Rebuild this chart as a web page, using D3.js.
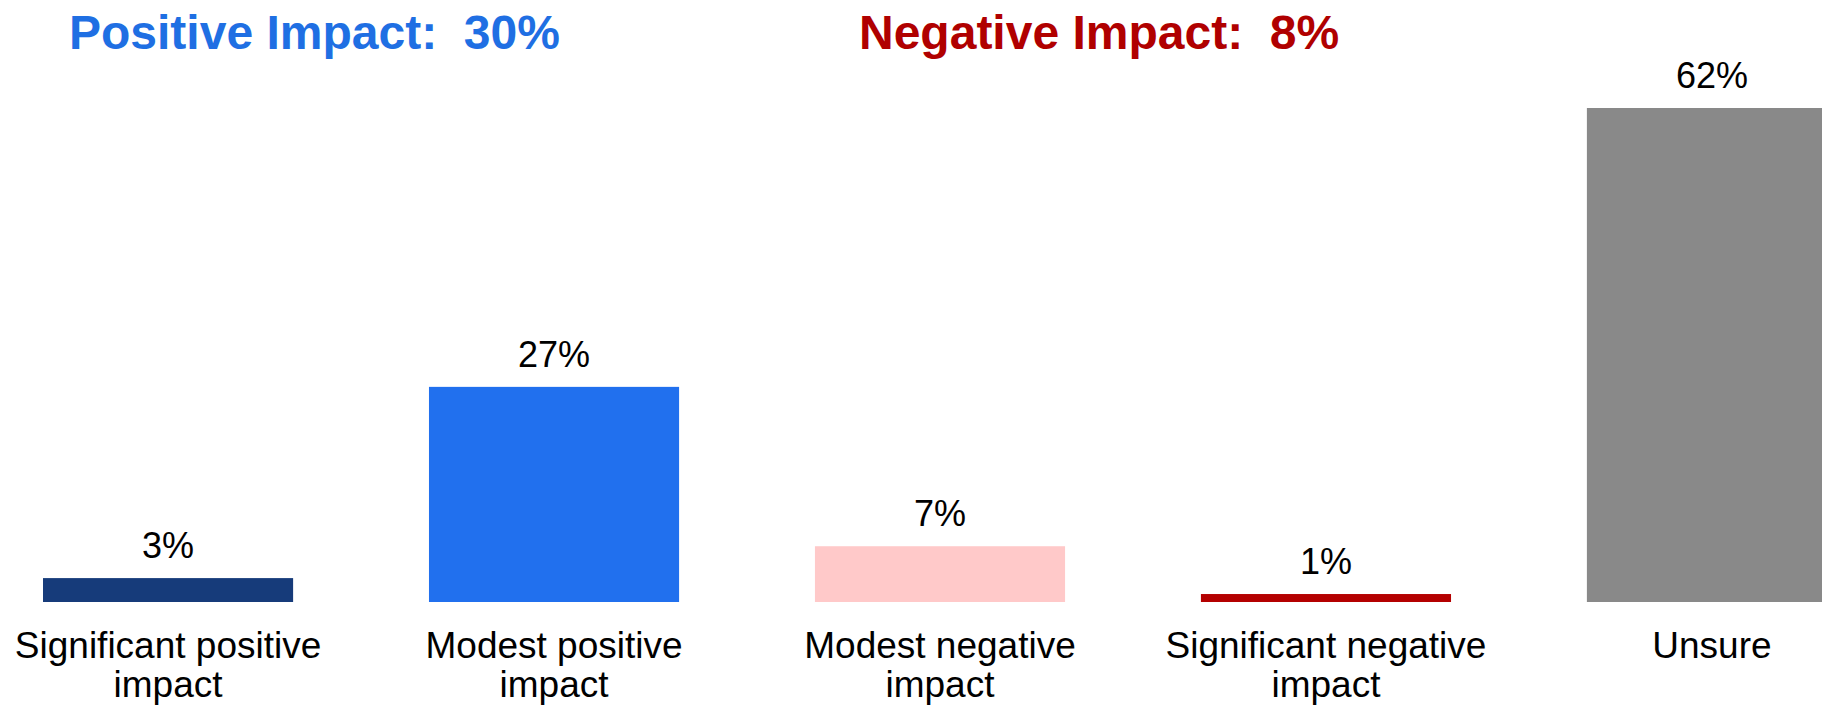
<!DOCTYPE html>
<html>
<head>
<meta charset="utf-8">
<script src="https://cdn.jsdelivr.net/npm/d3@7"></script>
<style>
  html, body { margin: 0; padding: 0; background: #ffffff; overflow: hidden; }
  svg { display: block; font-family: "Liberation Sans", Arial, sans-serif; }
</style>
</head>
<body>
<svg id="chart" width="1822" height="707"></svg>
<script>
// ---- data ----
const categories = ["Significant positive impact", "Modest positive impact", "Modest negative impact", "Significant negative impact", "Unsure"];
const categoryLines = [["Significant positive", "impact"], ["Modest positive", "impact"], ["Modest negative", "impact"], ["Significant negative", "impact"], ["Unsure"]];
const values = [3, 27, 7, 1, 62];
const valueLabels = ["3%", "27%", "7%", "1%", "62%"];
const barColors = ["#163b7a", "#2170ee", "#ffc9c9", "#b40000", "#898989"];
const groupTitles = ["Positive Impact:  30%", "Negative Impact:  8%"];
const groupColors = ["#1f6fe3", "#b00000"];

// ---- layout ----
const svg = d3.select("#chart");
const baseline = 602;

const x = d3.scaleBand()
  .domain(categories)
  .range([43, 1837])
  .paddingInner(0.352)
  .paddingOuter(0);

const y = d3.scaleLinear()
  .domain([0, 62])
  .range([baseline, 108]);

// bars
svg.append("g").selectAll("rect")
  .data(categories)
  .join("rect")
  .attr("x", d => x(d))
  .attr("y", (d, i) => y(values[i]))
  .attr("width", x.bandwidth())
  .attr("height", (d, i) => baseline - y(values[i]))
  .attr("fill", (d, i) => barColors[i]);

// value labels
svg.append("g").selectAll("text")
  .data(categories)
  .join("text")
  .attr("x", d => x(d) + x.bandwidth() / 2)
  .attr("y", (d, i) => y(values[i]) - 20)
  .attr("text-anchor", "middle")
  .attr("font-size", 36)
  .attr("fill", "#000")
  .text((d, i) => valueLabels[i]);

// category labels
const catG = svg.append("g").selectAll("text")
  .data(categories)
  .join("text")
  .attr("x", d => x(d) + x.bandwidth() / 2)
  .attr("y", 658)
  .attr("text-anchor", "middle")
  .attr("font-size", 37)
  .attr("fill", "#000");
catG.each(function(d, i) {
  const t = d3.select(this);
  categoryLines[i].forEach((line, j) => {
    t.append("tspan")
      .attr("x", x(d) + x.bandwidth() / 2)
      .attr("dy", j === 0 ? 0 : 39)
      .text(line);
  });
});

// group titles
const titleX = [69, 859];
svg.append("g").selectAll("text")
  .data(groupTitles)
  .join("text")
  .attr("x", (d, i) => titleX[i])
  .attr("y", 49)
  .attr("font-size", 48)
  .attr("font-weight", "bold")
  .attr("fill", (d, i) => groupColors[i])
  .style("white-space", "pre")
  .text(d => d);
</script>
</body>
</html>
